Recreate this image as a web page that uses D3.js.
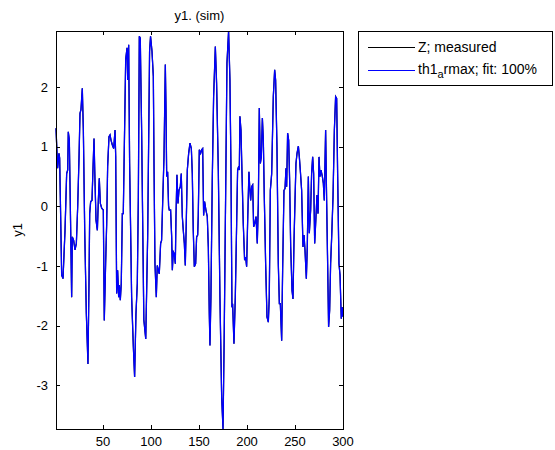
<!DOCTYPE html>
<html><head><meta charset="utf-8">
<script src="https://cdn.jsdelivr.net/npm/d3@7"></script>
<style>body{margin:0;background:#fff}svg{display:block}text{font-family:"Liberation Sans",Arial,sans-serif;fill:#000}</style>
</head><body><svg id="c" width="555" height="450"></svg>
<script>
const title = "y1. (sim)";
const yLabel = "y1";
const xTicks = [50,100,150,200,250,300];
const yTicks = [-3,-2,-1,0,1,2];
const seriesNames = ["Z; measured","th1","a","rmax; fit: 100%"];
const t = [1,2.7,4.1,4.8,6.9,8.3,10.4,12.1,13.2,13.8,14.9,16.3,17.3,18,19.4,20.8,22.2,23.6,25,26,27,28.4,29.5,30.9,32.6,34.3,35.4,36.1,37.1,38.5,39.5,40.6,41.6,42.7,44.1,45.1,46.1,47.2,48.6,50.3,51.3,52.7,53.8,54.8,56.2,57.3,58.3,59.7,61.1,62.5,63.2,64.2,65.2,66.3,67,68,69,70.1,71.1,73.6,75,75.7,76.7,77.7,79.8,81.6,82.9,84.3,85.7,86.8,87.8,88.8,90.2,92.5,94.5,96.5,98.5,99.5,101,102.4,103.1,104.1,105.5,106.5,107.6,108.6,110,111,112.1,113.5,114.9,115.6,116.3,117.3,118.3,119,120.4,121.5,122.2,123.2,124.2,125.3,126,127,128.1,129.1,130.5,131.5,132.6,133.6,134.7,135.7,136.7,137.8,139.2,140.6,142,143,144,145.1,146.5,147.5,148.6,149.2,150.3,151.7,152.7,153.8,154.8,155.8,157.2,158.6,159.7,160.7,161.4,162.4,163.8,165.2,167,168.3,170.1,171.8,173.6,175,176.3,177.7,179.1,180.8,182.2,183.3,184.3,185,186.4,187.8,189.2,190.2,191.3,192,192.6,193.7,194.7,196.1,197.5,198.6,199.6,200.6,202,202.8,203.8,204.8,205.9,206.9,208,209.4,210.7,211.8,212.8,213.9,214.9,216,217,218,219.4,220.8,222.2,223.2,224.3,225.7,227.4,228.8,229.8,231.2,232.6,233.7,234.7,236.1,237.1,238.5,239.6,240.6,241.3,242.3,243.4,244.4,245.5,246.9,247.9,248.9,250,251,252.1,253.5,254.5,255.5,256.9,258.3,259.4,260.4,261.8,262.8,263.9,264.9,266.3,267.3,268.4,269.4,270.5,271.5,272.9,274,275,276,277.1,278.5,279.5,280.5,281.9,283,284,285,286.1,287.1,288.2,289.6,291,292.3,293.4,294.4,295.8,296.9,298.2,299.3,300];
const measured = [1.31,0.64,0.89,0.81,-1.15,-1.21,-0.4,0.55,0.61,1.25,1.11,-0.4,-1.52,-0.51,-0.57,-0.73,-0.62,0,0.83,1.56,1.62,1.98,1.28,-0.4,-1.8,-2.64,-1.24,-0.12,0.08,0.1,0.61,1.14,0.44,-0.23,-0.4,0.1,0.47,0.05,-0.03,-0.06,-1.91,-0.96,-0.29,0.67,1.17,1.2,1.11,1.03,0.97,1.28,0.83,-1.46,-1.07,-1.52,-1.32,-1.57,-1.29,-0.12,-0.12,2.46,2.66,2.12,2.71,0.72,-1.52,-2.36,-2.86,-1.8,-1.29,0.16,2.85,2.82,1.28,-1.9,-2.22,-0.5,2.6,2.85,2.6,2.18,0.72,-0.96,-1.52,-0.99,-1.07,-1.13,-0.62,-0.57,0.05,0.83,2.38,1.62,0.5,0.58,0,-0.06,-0.06,-0.51,-1.07,-0.76,-0.79,-0.96,-0.17,0.53,0.05,0.27,0.33,0.55,-0.17,-0.4,-0.62,-0.99,-0.29,0.61,0.89,1.06,0.97,0.55,-0.4,-1.01,-0.96,-0.51,-0.48,-0.17,0.95,0.89,0.95,0.97,-0.15,0.08,-0.06,-0.17,-0.68,-1.8,-2.33,-1.52,0.44,1.84,2.68,2.07,0.61,-1.52,-3.2,-3.73,-2.08,0.16,2.4,2.94,2.12,0.61,-1.69,-1.63,-2.3,-1.52,-0.29,0.61,0.67,0.61,1.51,1.28,0.61,-0.29,-0.9,-0.85,-1.01,-0.29,0.58,0.33,0.1,0.33,0.36,-0.34,-0.29,-0.17,-0.62,0.05,1.65,0.72,0.83,1.48,1.11,0.16,-0.96,-1.85,-1.94,-1.52,0.27,0.55,1.84,2.29,2.12,1.0,-0.96,-1.63,-1.63,-2.25,-1.07,0.27,0.3,0.64,0.33,1.23,1.11,0.44,-0.68,-1.41,-1.55,-0.62,0.1,0.72,0.89,1.01,0.83,0.61,0.27,-0.68,-0.48,-0.73,-1.21,-0.68,0.5,-0.45,-0.06,0.55,0.83,0.55,-0.62,-0.29,0.19,-0.12,0.83,0.5,0.61,0.5,0.39,0.1,1.28,0.05,-0.96,-2.02,-1.74,-0.96,-0.51,0.16,1.28,1.84,1.81,0.55,-0.96,-1.15,-1.88,-1.69,-1.85];
const simulated = measured.slice();

const svg = d3.select("#c");
const L=56,R=343,T=31,B=429;
const x = d3.scaleLinear().domain([1,300]).range([L,R]);
const y = d3.scaleLinear().domain(d3.extent(measured)).range([B,T]);

const line = d3.line().x((d,i)=>x(t[i])).y(d=>y(d));
svg.append("path").datum(measured).attr("d",line).attr("fill","none").attr("stroke","#000").attr("stroke-width",1.2);
svg.append("path").datum(simulated).attr("d",line).attr("fill","none").attr("stroke","#0000ff").attr("stroke-width",1.3);

const g = svg.append("g");
g.append("rect").attr("x",L+0.5).attr("y",T+0.5).attr("width",R-L).attr("height",B-T).attr("fill","none").attr("stroke","#000");
const tl=4;
xTicks.forEach(v=>{
  const px=Math.round(x(v))+0.5;
  g.append("line").attr("x1",px).attr("x2",px).attr("y1",B).attr("y2",B-tl).attr("stroke","#000");
  g.append("line").attr("x1",px).attr("x2",px).attr("y1",T).attr("y2",T+tl).attr("stroke","#000");
  g.append("text").attr("x",x(v)).attr("y",446).attr("text-anchor","middle").attr("font-size",13).text(String(v));
});
yTicks.forEach(v=>{
  const py=Math.round(y(v))+0.5;
  g.append("line").attr("x1",L).attr("x2",L+tl).attr("y1",py).attr("y2",py).attr("stroke","#000");
  g.append("line").attr("x1",R).attr("x2",R-tl).attr("y1",py).attr("y2",py).attr("stroke","#000");
  g.append("text").attr("x",48).attr("y",y(v)+4.5).attr("text-anchor","end").attr("font-size",13).text(String(v));
});
svg.append("text").attr("x",(L+R)/2).attr("y",20).attr("text-anchor","middle").attr("font-size",13).text(title);
svg.append("text").attr("transform","translate(22,230) rotate(-90)").attr("text-anchor","middle").attr("font-size",13).text(yLabel);

// legend
const lg = svg.append("g");
lg.append("rect").attr("x",358.5).attr("y",31.5).attr("width",194).attr("height",54).attr("fill","#fff").attr("stroke","#000");
lg.append("line").attr("x1",368).attr("x2",415).attr("y1",47.5).attr("y2",47.5).attr("stroke","#000");
lg.append("text").attr("x",418).attr("y",52).attr("font-size",14).text(seriesNames[0]);
lg.append("line").attr("x1",368).attr("x2",415).attr("y1",70.5).attr("y2",70.5).attr("stroke","#0000ff");
const t2 = lg.append("text").attr("x",418).attr("y",74).attr("font-size",14);
t2.append("tspan").text(seriesNames[1]);
t2.append("tspan").attr("dy",4).attr("font-size",11).text(seriesNames[2]);
t2.append("tspan").attr("dy",-4).text(seriesNames[3]);
</script></body></html>
